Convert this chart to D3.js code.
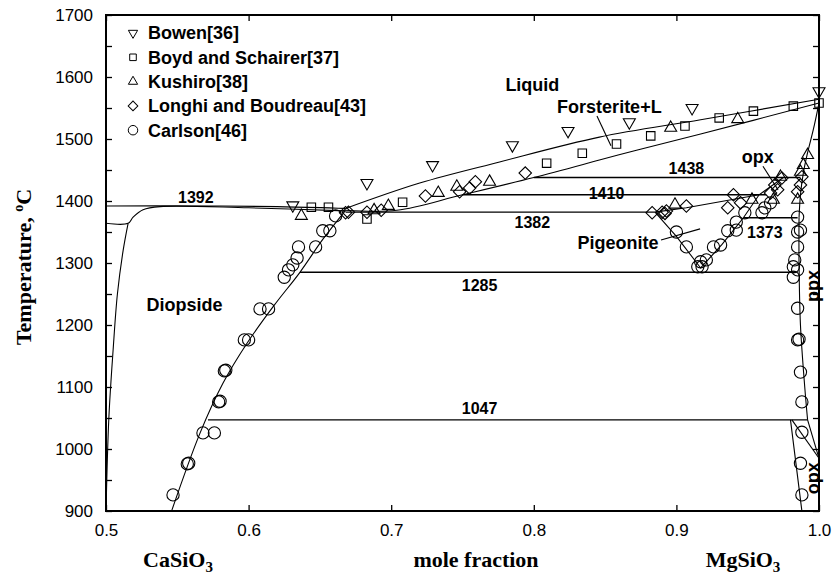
<!DOCTYPE html>
<html>
<head>
<meta charset="utf-8">
<script src="https://cdn.jsdelivr.net/npm/d3@7"></script>
<style>
  body { margin: 0; background: #fff; }
  svg { display: block; }
  .tick text { font-family: "Liberation Sans", Arial, sans-serif; font-size: 17px; fill: #000; }
  .lab { font-family: "Liberation Sans", Arial, sans-serif; font-weight: bold; fill: #000; }
  .ttl { font-family: "Liberation Serif", "Times New Roman", serif; font-weight: bold; font-size: 22px; fill: #000; }
</style>
</head>
<body>
<div id="chart"></div>
<script>
//////////////////////////////  data  //////////////////////////////
const xTicks = [0.5, 0.6, 0.7, 0.8, 0.9, 1.0];
const yTicks = [900, 1000, 1100, 1200, 1300, 1400, 1500, 1600, 1700];
const yMinor = [950, 1050, 1150, 1250, 1350, 1450, 1550, 1650];

// experimental points [mole fraction MgSiO3, T]
const bowen = [[0.631,1393],[0.683,1429],[0.729,1458],[0.785,1490],[0.824,1513],
  [0.867,1527],[0.911,1550],[1.0,1577]];
const boyd = [[0.644,1390],[0.656,1390],[0.683,1371],[0.708,1398],[0.809,1461],[0.834,1477],
  [0.858,1492],[0.882,1505],[0.906,1521],[0.930,1534],[0.954,1545],[0.982,1553],[1.0,1558]];
const kushiro = [[0.637,1376],[0.688,1385],[0.698,1392],[0.733,1413],[0.746,1423],[0.769,1431],
  [0.896,1518],[0.943,1532],[0.899,1394],[0.953,1402],[0.968,1402],[0.973,1439],[0.985,1402],
  [0.987,1447],[0.989,1458],[0.992,1474]];
const longhi = [[0.668,1381],[0.670,1382],[0.683,1382],[0.693,1385],[0.724,1408],[0.748,1415],
  [0.755,1421],[0.759,1431],[0.794,1445],[0.883,1381],[0.890,1382],[0.892,1380],[0.893,1384],
  [0.907,1392],[0.936,1389],[0.940,1410],[0.945,1397],[0.966,1413],[0.969,1426],[0.974,1437],
  [0.971,1418],[0.987,1426],[0.988,1439],[0.985,1415]];
const carlson = [[0.547,926],[0.557,976],[0.558,977],[0.568,1026],[0.576,1026],[0.579,1076],
  [0.580,1077],[0.583,1126],[0.584,1127],[0.597,1176],[0.600,1176],[0.608,1226],[0.614,1226],
  [0.625,1277],[0.628,1289],[0.631,1297],[0.634,1308],[0.635,1326],[0.647,1326],[0.652,1352],
  [0.657,1352],[0.661,1376],
  [0.900,1350],[0.907,1326],[0.915,1294],[0.917,1302],[0.918,1294],[0.921,1305],[0.926,1326],
  [0.931,1329],[0.936,1352],[0.942,1353],[0.942,1366],[0.948,1381],[0.960,1381],[0.962,1389],
  [0.966,1397],
  [0.985,1374],[0.987,1353],[0.985,1350],[0.985,1326],[0.983,1305],[0.985,1289],[0.982,1294],
  [0.982,1277],[0.985,1227],[0.985,1176],[0.986,1177],[0.987,1124],[0.988,1076],[0.988,1027],
  [0.987,977],[0.988,926]];

// phase boundaries
const liqUpper = [[0.668,1388],[0.720,1429],[0.776,1463],[0.846,1503],[0.917,1531],[1.0,1564]];
const liqLower = [[0.668,1385],[0.704,1385],[0.750,1410],[0.800,1438],[0.846,1466],[0.872,1482],
  [0.917,1508],[1.0,1558]];
const diLiquidus = [[0.5,1392],[0.56,1392],[0.62,1391],[0.668,1388]];
const diSolidus = [[0.5,1364],[0.5155,1364],[0.519,1374],[0.526,1386],[0.538,1391],[0.600,1389],[0.668,1384]];
const diSolvusL = [[0.5155,1364],[0.512,1320],[0.508,1250],[0.505,1160],[0.502,1050],[0.5,900]];
const diSolvusR = [[0.546,900],[0.566,1026],[0.582,1106],[0.599,1171],[0.618,1232],[0.636,1285],
  [0.652,1338],[0.668,1385]];
const pigV = [[0.885,1382],[0.900,1343],[0.917,1292],[0.932,1330],[0.947,1373],[0.958,1410],[0.975,1438]];
const pigTop = [[0.885,1382],[0.907,1389],[0.958,1410]];
const enRight = [[1.0,1558],[0.996,1515],[0.992,1478],[0.989,1445],[0.987,1410],[0.986,1373]];
const ppxLeft = [[0.986,1373],[0.986,1300],[0.987,1200],[0.990,1100],[0.992,1047]];
const opxLeft = [[0.980,1047],[0.988,900]];
const opxDiag = [[0.981,1047],[1.0,985]];
const ppxLow = [[0.992,1047],[1.0,985]];

// isotherms [from, to, T]
const isotherms = [[0.668,0.885,1382],[0.750,0.963,1410],[0.800,0.987,1438],
  [0.947,0.985,1373],[0.636,0.984,1285],[0.5715,0.992,1047]];

// annotations [text, x, T]
const numLabels = [["1392",0.563,1406],["1438",0.907,1453],["1410",0.851,1413],["1382",0.799,1366],
  ["1373",0.962,1350],["1285",0.762,1264],["1047",0.762,1066]];
const nameLabels = [["Liquid",0.799,1587],["Forsterite+L",0.853,1552],["Pigeonite",0.859,1332],
  ["opx",0.957,1471],["Diopside",0.555,1232]];
const sideLabels = [["ppx",0.9958,1263],["opx",0.9958,953]];
const pointers = [[[0.8443,1537],[0.8541,1489]],[[0.8892,1337],[0.9166,1355]],
  [[0.9607,1456],[0.9713,1418]]];

const legendNames = ["Bowen[36]", "Boyd and Schairer[37]", "Kushiro[38]",
  "Longhi and Boudreau[43]", "Carlson[46]"];

//////////////////////////////  init  //////////////////////////////
const width = 835, height = 577;
const margin = { top: 15, right: 16, bottom: 66, left: 106 };

const svg = d3.select("#chart").append("svg")
  .attr("width", width).attr("height", height)
  .style("background", "#fff");

const x = d3.scaleLinear().domain([0.5, 1.0]).range([margin.left, width - margin.right]);
const y = d3.scaleLinear().domain([900, 1700]).range([height - margin.bottom, margin.top]);

const line = d3.line().x(d => x(d[0])).y(d => y(d[1]));
const smooth = d3.line().x(d => x(d[0])).y(d => y(d[1])).curve(d3.curveCatmullRom.alpha(0.5));

//////////////////////////////  axes  //////////////////////////////
const fmt = d3.format(".1f");
svg.append("g")
  .attr("transform", `translate(0,${y(900)})`)
  .call(d3.axisBottom(x).tickValues(xTicks).tickFormat(fmt).tickSizeInner(-6).tickSizeOuter(0).tickPadding(13));
svg.append("g")
  .attr("transform", `translate(0,${y(1700)})`)
  .call(d3.axisTop(x).tickValues(xTicks).tickFormat("").tickSizeInner(-6).tickSizeOuter(0));
svg.append("g")
  .attr("transform", `translate(${x(0.5)},0)`)
  .call(d3.axisLeft(y).tickValues(yTicks.concat(yMinor))
    .tickFormat(d => yTicks.includes(d) ? d : "").tickSizeInner(-6).tickSizeOuter(0).tickPadding(13));
svg.append("g")
  .attr("transform", `translate(${x(1.0)},0)`)
  .call(d3.axisRight(y).tickValues(yTicks.concat(yMinor)).tickFormat("").tickSizeInner(-6).tickSizeOuter(0));

svg.selectAll(".domain").remove();
svg.selectAll(".tick line").attr("stroke", "#000").attr("stroke-width", 1.3);

svg.append("rect")
  .attr("x", x(0.5)).attr("y", y(1700))
  .attr("width", x(1.0) - x(0.5)).attr("height", y(900) - y(1700))
  .attr("fill", "none").attr("stroke", "#000").attr("stroke-width", 2);

// axis titles
const yt = svg.append("text").attr("class", "ttl")
  .attr("transform", `translate(31,${(y(900) + y(1700)) / 2 + 4}) rotate(-90)`)
  .attr("text-anchor", "middle");
yt.append("tspan").text("Temperature, ");
yt.append("tspan").attr("dy", -8).attr("font-size", 14).text("o");
yt.append("tspan").attr("dy", 8).text("C");

function formula(cx, base) {
  const t = svg.append("text").attr("class", "ttl")
    .attr("x", cx).attr("y", 567).attr("text-anchor", "middle");
  t.append("tspan").text(base);
  t.append("tspan").attr("dy", 5).attr("font-size", 15).text("3");
}
formula(178, "CaSiO");
formula(743, "MgSiO");
svg.append("text").attr("class", "ttl").attr("x", 476).attr("y", 567)
  .attr("text-anchor", "middle").text("mole fraction");

//////////////////////////////  boundaries  //////////////////////////////
const g = svg.append("g").attr("fill", "none").attr("stroke", "#000").attr("stroke-width", 1.1);

[liqUpper, liqLower, diSolvusR, enRight, ppxLeft].forEach(d =>
  g.append("path").datum(d).attr("d", smooth));
[diLiquidus, diSolidus, diSolvusL].forEach(d =>
  g.append("path").datum(d).attr("d", smooth));
[pigV, pigTop, opxLeft, opxDiag, ppxLow].forEach(d =>
  g.append("path").datum(d).attr("d", line));

g.selectAll(".iso").data(isotherms).join("line")
  .attr("class", "iso")
  .attr("x1", d => x(d[0])).attr("x2", d => x(d[1]))
  .attr("y1", d => y(d[2])).attr("y2", d => y(d[2]))
  .attr("stroke-width", 1.4);

g.selectAll(".ptr").data(pointers).join("path")
  .attr("class", "ptr")
  .attr("d", d => line(d));

//////////////////////////////  symbols  //////////////////////////////
const series = [
  { name: legendNames[0], data: bowen,   type: d3.symbolTriangle, size: 62, rot: 180 },
  { name: legendNames[1], data: boyd,    type: d3.symbolSquare,   size: 72, rot: 0 },
  { name: legendNames[2], data: kushiro, type: d3.symbolTriangle, size: 62, rot: 0 },
  { name: legendNames[3], data: longhi,  type: d3.symbolSquare,   size: 78, rot: 45 },
  { name: legendNames[4], data: carlson, type: d3.symbolCircle,   size: 118, rot: 0 }
];

series.forEach(s => {
  svg.append("g").selectAll("path").data(s.data).join("path")
    .attr("d", d3.symbol().type(s.type).size(s.size))
    .attr("transform", d => `translate(${x(d[0])},${y(d[1])}) rotate(${s.rot})`)
    .attr("fill", "none").attr("stroke", "#000").attr("stroke-width", 1.1);
});

// legend
const leg = svg.append("g");
series.forEach((s, i) => {
  const ly = 33 + i * 24.3;
  leg.append("path")
    .attr("d", d3.symbol().type(s.type).size(s.size * 0.6))
    .attr("transform", `translate(133,${ly}) rotate(${s.rot})`)
    .attr("fill", "none").attr("stroke", "#000").attr("stroke-width", 1);
  leg.append("text").attr("class", "lab")
    .attr("x", 148).attr("y", ly).attr("dy", "0.35em")
    .attr("font-size", 18).text(s.name);
});

//////////////////////////////  labels  //////////////////////////////
svg.selectAll(".num").data(numLabels).join("text")
  .attr("class", "lab num")
  .attr("x", d => x(d[1])).attr("y", d => y(d[2])).attr("dy", "0.35em")
  .attr("text-anchor", "middle").attr("font-size", 16).text(d => d[0]);

svg.selectAll(".name").data(nameLabels).join("text")
  .attr("class", "lab name")
  .attr("x", d => x(d[1])).attr("y", d => y(d[2])).attr("dy", "0.35em")
  .attr("text-anchor", "middle").attr("font-size", 18).text(d => d[0]);

svg.selectAll(".side").data(sideLabels).join("text")
  .attr("class", "lab side")
  .attr("transform", d => `translate(${x(d[1])},${y(d[2])}) rotate(-90)`)
  .attr("dy", "0.35em")
  .attr("text-anchor", "middle").attr("font-size", 18).text(d => d[0]);
</script>
</body>
</html>
